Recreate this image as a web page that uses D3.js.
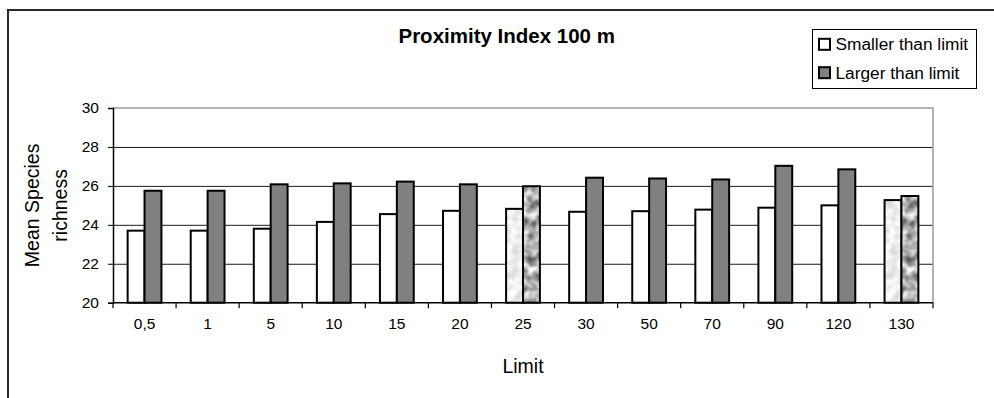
<!DOCTYPE html>
<html>
<head>
<meta charset="utf-8">
<script src="https://cdn.jsdelivr.net/npm/d3@7"></script>
<style>
  html, body { margin: 0; padding: 0; background: #fff; }
  svg { display: block; font-family: "Liberation Sans", Arial, sans-serif; }
</style>
</head>
<body>
<svg id="chart" width="994" height="398"></svg>
<script>
// Mean species richness for patches below / above each proximity-index limit
const limits = ["0,5", "1", "5", "10", "15", "20", "25", "30", "50", "70", "90", "120", "130"];
const smallerThanLimit = [23.7, 23.7, 23.8, 24.15, 24.55, 24.72, 24.82, 24.67, 24.7, 24.78, 24.88, 25.0, 25.27];
const largerThanLimit  = [25.75, 25.75, 26.08, 26.13, 26.22, 26.08, 25.98, 26.42, 26.38, 26.33, 27.03, 26.85, 25.48];
const seriesNames = ["Smaller than limit", "Larger than limit"];
const textured = ["25", "130"];
const yTicks = [20, 22, 24, 26, 28, 30];

const svg = d3.select("#chart");

// mottled textures for the highlighted limits
const defs = svg.append("defs");
function mottle(id, freq, k, c, seed) {
  const f = defs.append("filter").attr("id", id)
    .attr("x", 0).attr("y", 0).attr("width", 1).attr("height", 1)
    .attr("color-interpolation-filters", "sRGB");
  f.append("feTurbulence").attr("type", "fractalNoise")
    .attr("baseFrequency", freq).attr("numOctaves", 2).attr("seed", seed).attr("result", "n");
  f.append("feColorMatrix").attr("in", "n").attr("type", "matrix")
    .attr("values", `${k} 0 0 0 ${c}  ${k} 0 0 0 ${c}  ${k} 0 0 0 ${c}  0 0 0 0 1`).attr("result", "g");
  f.append("feComposite").attr("in", "g").attr("in2", "SourceGraphic").attr("operator", "in");
}
mottle("mottle-light", 0.1, 0.35, 0.77, 3);
mottle("mottle-dark", 0.11, 1.05, 0.17, 7);

// outer chart frame
svg.append("rect").attr("x", 8).attr("y", 10).attr("width", 1100).attr("height", 500)
  .attr("fill", "none").attr("stroke", "#2a2a2a").attr("stroke-width", 2);

const plot = { left: 113, right: 933, top: 108, bottom: 302.7 };

const x = d3.scaleBand().domain(limits).range([plot.left, plot.right]).paddingInner(0).paddingOuter(0);
const xs = d3.scaleBand().domain(seriesNames).range([0, x.bandwidth()]).paddingInner(0).paddingOuter(0.866);
const y = d3.scaleLinear().domain([20, 30]).range([plot.bottom, plot.top]);

// gridlines
svg.append("g").attr("transform", `translate(${plot.left},0)`)
  .call(d3.axisLeft(y).tickValues(yTicks.filter(v => v > 20 && v < 30)).tickSize(-(plot.right - plot.left)).tickFormat(""))
  .call(g => g.select(".domain").remove())
  .call(g => g.selectAll("line").attr("stroke", "#1a1a1a").attr("stroke-width", 1));

// plot area border (top and right)
svg.append("path")
  .attr("d", `M${plot.left},${y(30)}H${plot.right}V${plot.bottom}`)
  .attr("fill", "none").attr("stroke", "#9a9a9a").attr("stroke-width", 1.5);

// bars
const rows = limits.map((l, i) => ({ limit: l, values: [smallerThanLimit[i], largerThanLimit[i]] }));
const groups = svg.append("g").selectAll("g").data(rows).join("g")
  .attr("transform", d => `translate(${x(d.limit)},0)`);

const bars = groups.selectAll("g").data(d => d.values.map((v, j) => ({ limit: d.limit, name: seriesNames[j], j, v })))
  .join("g");

bars.append("rect")
  .attr("x", d => xs(d.name)).attr("width", xs.bandwidth())
  .attr("y", d => y(d.v)).attr("height", d => y(20) - y(d.v))
  .attr("fill", d => d.j === 0 ? (textured.includes(d.limit) ? "#f0f0f0" : "#ffffff") : (textured.includes(d.limit) ? "#9aa0a6" : "#808080"))
  .attr("filter", d => textured.includes(d.limit) ? (d.j === 0 ? "url(#mottle-light)" : "url(#mottle-dark)") : null);

bars.append("rect")
  .attr("x", d => xs(d.name)).attr("width", xs.bandwidth())
  .attr("y", d => y(d.v)).attr("height", d => y(20) - y(d.v))
  .attr("fill", "none").attr("stroke", "#000").attr("stroke-width", 2);

// y axis
svg.append("g").attr("transform", `translate(${plot.left},0)`)
  .call(d3.axisLeft(y).tickValues(yTicks).tickSize(5).tickPadding(9).tickFormat(d3.format("d")))
  .call(g => g.select(".domain").attr("stroke", "#000").attr("stroke-width", 1.5))
  .call(g => g.selectAll("line").attr("stroke", "#000"))
  .call(g => g.selectAll("text").attr("font-size", 15.5).attr("font-family", "Liberation Sans, Arial, sans-serif").attr("fill", "#000"));

// x axis: labels at band centres, ticks at band boundaries
svg.append("g").attr("transform", `translate(0,${plot.bottom})`)
  .call(d3.axisBottom(x).tickSize(0).tickPadding(15))
  .call(g => g.select(".domain").remove())
  .call(g => g.selectAll("text").attr("font-size", 15.5).attr("font-family", "Liberation Sans, Arial, sans-serif").attr("fill", "#000"));

svg.append("line").attr("x1", plot.left).attr("x2", plot.right).attr("y1", plot.bottom).attr("y2", plot.bottom)
  .attr("stroke", "#000").attr("stroke-width", 1.5);
svg.append("g").selectAll("line").data(d3.range(limits.length + 1)).join("line")
  .attr("x1", i => plot.left + i * x.step()).attr("x2", i => plot.left + i * x.step())
  .attr("y1", plot.bottom).attr("y2", plot.bottom + 5.5)
  .attr("stroke", "#000").attr("stroke-width", 1.2);

// titles
svg.append("text").attr("x", 506.7).attr("y", 43.3).attr("text-anchor", "middle")
  .attr("font-size", 20.5).attr("font-weight", "bold").text("Proximity Index 100 m");

svg.append("text").attr("x", (plot.left + plot.right) / 2).attr("y", 373.3).attr("text-anchor", "middle")
  .attr("font-size", 19.5).text("Limit");

const yl = svg.append("text").attr("transform", `translate(39,${(plot.top + plot.bottom) / 2}) rotate(-90)`)
  .attr("text-anchor", "middle").attr("font-size", 19.5);
yl.append("tspan").attr("x", 0).attr("y", 0).text("Mean Species");
yl.append("tspan").attr("x", 0).attr("y", 27.7).text("richness");

// legend
const lg = svg.append("g");
lg.append("rect").attr("x", 812.5).attr("y", 29.5).attr("width", 164).attr("height", 59)
  .attr("fill", "#fff").attr("stroke", "#000").attr("stroke-width", 1);
const items = lg.selectAll("g.item").data(seriesNames).join("g").attr("class", "item")
  .attr("transform", (d, i) => `translate(0,${44.3 + i * 28.4})`);
items.append("rect").attr("x", 819).attr("y", -5.5).attr("width", 11).attr("height", 11)
  .attr("fill", (d, i) => i === 0 ? "#fff" : "#808080").attr("stroke", "#000").attr("stroke-width", 2);
items.append("text").attr("x", 835.5).attr("y", 6).attr("font-size", 17.3).text(d => d);
</script>
</body>
</html>
